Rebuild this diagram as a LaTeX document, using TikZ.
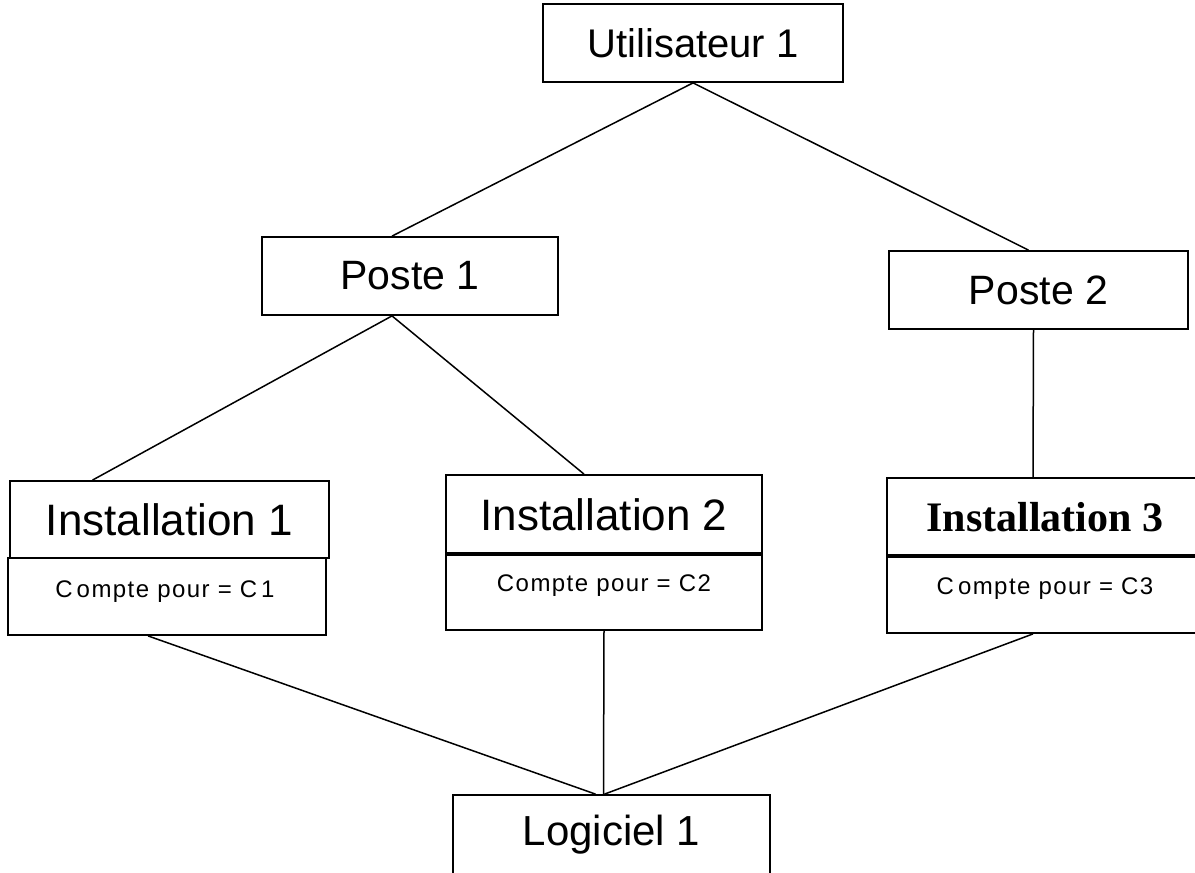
\documentclass[tikz,border=0pt]{standalone}
\usepackage{fontspec}
\setmainfont{Liberation Sans}
\newfontfamily\serifbold{Liberation Serif}[BoldFont={* Bold}]
\newfontfamily\spacedsans{Liberation Sans}[LetterSpace=6]
\usetikzlibrary{calc}
\tikzset{
  box/.style={draw, line width=1.8pt, inner sep=0pt, fill=white},
  thickdiv/.style={line width=3.6pt},
  link/.style={line width=1.5pt},
  bigtxt/.style={font=\fontsize{40}{40}\selectfont},
  insttxt/.style={font=\fontsize{44}{44}\selectfont},
  smalltxt/.style={font=\spacedsans\fontsize{24}{24}\selectfont},
}
\begin{document}
\begin{tikzpicture}[x=1pt,y=-1pt]
\useasboundingbox (0,0) rectangle (1195,873);
\clip (0,0) rectangle (1195,873);
\fill[white] (0,0) rectangle (1195,873);

% boxes
\node[box, minimum width=300pt, minimum height=78pt, bigtxt] (u) at (693,43) {Utilisateur 1};
\node[box, minimum width=296pt, minimum height=78pt, font=\fontsize{41}{41}\selectfont] (p1) at (410,276) {Poste 1};
\node[box, minimum width=299pt, minimum height=78pt, font=\fontsize{41}{41}\selectfont] (p2) at (1038.5,290) {Poste 2};

\node[box, minimum width=319pt, minimum height=77pt, insttxt] (i1t) at (169.5,519.5) {Installation 1};
\node[box, minimum width=318pt, minimum height=77pt] (i1b) at (167,596.5) {};
\node[smalltxt] (i1c) at (165,592) {C\,ompte pour = C\,1};

\node[box, minimum width=316pt, minimum height=80pt, insttxt] (i2t) at (604,515) {Installation 2};
\node[box, minimum width=316pt, minimum height=75pt] (i2b) at (604,592.5) {};
\node[smalltxt] (i2c) at (604,586) {Compte pour = C2};
\draw[thickdiv] (i2b.north west) -- (i2b.north east);

\node[box, minimum width=316pt, minimum height=79pt, font=\serifbold\bfseries\fontsize{42}{42}\selectfont] (i3t) at (1045,517.5) {Installation 3};
\node[box, minimum width=316pt, minimum height=76pt] (i3b) at (1045,595) {};
\node[smalltxt] (i3c) at (1045,589) {C\,ompte pour = C3};
\draw[thickdiv] (i3b.north west) -- (i3b.north east);

\node[box, minimum width=317pt, minimum height=120pt] (lg) at (611.5,855) {};
\node[font=\fontsize{42}{42}\selectfont] (lgt) at (611.5,835) {Logiciel 1};

% connectors
\draw[link] (u.south) -- ([xshift=-18pt]p1.north);
\draw[link] (u.south) -- ([xshift=-10pt]p2.north);
\draw[link] ([xshift=-18pt]p1.south) -- ([xshift=-77pt]i1t.north);
\draw[link] ([xshift=-18pt]p1.south) -- ([xshift=-20pt]i2t.north);
\draw[link] ([xshift=-5pt]p2.south) -- ([xshift=-12pt]i3t.north);
\draw[link] ([xshift=-19pt]i1b.south) -- ([xshift=-16pt]lg.north);
\draw[link] (i2b.south) -- ([xshift=-8pt]lg.north);
\draw[link] ([xshift=-12pt]i3b.south) -- ([xshift=-7pt]lg.north);
\end{tikzpicture}
\end{document}
